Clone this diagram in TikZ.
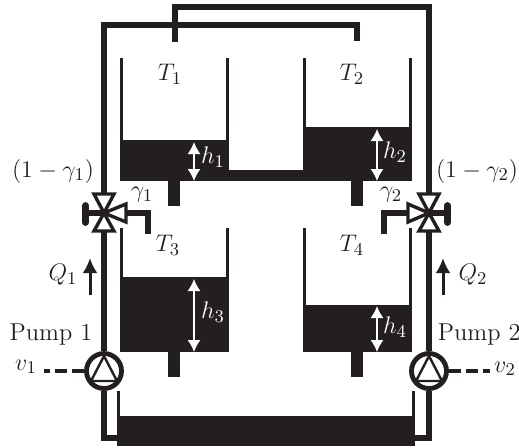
\documentclass[tikz,border=0pt]{standalone}
\usepackage{tikz}
\usetikzlibrary{arrows.meta}

\definecolor{ink}{HTML}{231F20}

\begin{document}
\begin{tikzpicture}[
    x=0.5pt, y=-0.5pt,
    font=\fontsize{13}{15}\selectfont,
    lab/.style={inner sep=0pt, text=ink},
    inlab/.style={inner sep=0pt, text=white},
    pumplab/.style={inner sep=0pt, text=ink, font=\fontsize{12.2}{15}\selectfont},
    pipe/.style={draw=ink, line width=3pt, line cap=butt, miter limit=10},
    wall/.style={draw=ink, line width=1.6pt},
    fluid/.style={fill=ink},
    lvl/.style={white, line width=0.7pt, {Latex[length=6pt,width=6.5pt]}-{Latex[length=6pt,width=6.5pt]}},
    flow/.style={draw=ink, line width=1.5pt, -{Latex[length=7.5pt,width=7.5pt]}},
    sig/.style={draw=ink, line width=1.8pt, dash pattern=on 6pt off 2.5pt},
    pumpS/.style={circle, draw=ink, fill=white, line width=2.4pt, minimum size=17.5pt, inner sep=0pt},
    valveS/.style={draw=ink, fill=white, line width=1.7pt, line join=miter}
]
    % pipe ends
    \coordinate (valve1) at (104,213);
    \coordinate (valve2) at (429,213);
    \coordinate (in1) at (175,42);
    \coordinate (in2) at (357,41);
    \coordinate (top1) at (175,7);
    \coordinate (top2) at (357,25);
    \coordinate (in3) at (148,234);
    \coordinate (in4) at (384,234);
    \coordinate (sump1) at (120,438);
    \coordinate (sump2) at (412,438);
    \coordinate (v1end) at (44,371);
    \coordinate (v2end) at (490,371);

    % tanks
    \fill[fluid] (120,140) rectangle (229,181);
    \fill[fluid] (303,127) rectangle (412,181);
    \fill[fluid] (229,170) rectangle (303,181);
    \fill[fluid] (120,277) rectangle (229,352);
    \fill[fluid] (303,305) rectangle (412,352);
    \fill[fluid] (168,181) rectangle (180,206);
    \fill[fluid] (351,181) rectangle (363,206);
    \fill[fluid] (168,352) rectangle (180,377);
    \fill[fluid] (351,352) rectangle (363,377);
    \fill[fluid] (117,416) rectangle (415,446);
    \foreach \xa/\ya/\yb in {121.5/58/140, 227.5/58/140, 304.5/58/127, 410.5/58/127,
                             121.5/228/277, 227.5/228/277, 304.5/228/305, 410.5/228/305,
                             118.5/391/416, 413.5/391/416}
        \draw[wall] (\xa,\ya) -- (\xa,\yb);

    % level arrows
    \draw[lvl] (194,142) -- (194,181);
    \draw[lvl] (377,129) -- (377,181);
    \draw[lvl] (194,279) -- (194,352);
    \draw[lvl] (377,306) -- (377,352);

    % pipes
    \draw[pipe] (valve1) |- (top2) -- (in2);
    \draw[pipe] (valve2) |- (top1) -- (in1);
    \draw[pipe] (valve1) -| (in3);
    \draw[pipe] (valve2) -| (in4);
    \draw[pipe] (valve1) -- ++(-19,0);
    \draw[pipe] (valve2) -- ++(19,0);
    \draw[pipe, line cap=round, line width=3.4pt] (85.5,205.5) -- (85.5,222.5);
    \draw[pipe, line cap=round, line width=3.4pt] (447.5,205.5) -- (447.5,222.5);
    \node[pumpS] (pump1) at (104,371) {};
    \node[pumpS] (pump2) at (429,371) {};
    \draw[pipe] (valve1) -- (pump1);
    \draw[pipe] (valve2) -- (pump2);
    \draw[pipe] (pump1) |- (sump1);
    \draw[pipe] (pump2) |- (sump2);

    % pumps
    \foreach \p in {pump1,pump2} {
        \draw[ink, line width=1.2pt, line join=miter] ([shift={(0,-15)}]\p.center) -- ([shift={(-13,10)}]\p.center)
            -- ([shift={(13,10)}]\p.center) -- cycle;
    }
    \draw[sig] (pump1.west) -- (v1end);
    \draw[sig] (pump2.east) -- (v2end);

    % valves
    \foreach \v in {valve1,valve2} {
        \draw[valveS] (\v) -- ([shift={(-10,-19)}]\v) -- ([shift={(10,-19)}]\v) -- cycle;
        \draw[valveS] (\v) -- ([shift={(-10,18)}]\v) -- ([shift={(10,18)}]\v) -- cycle;
    }
    \draw[valveS] (valve1) -- ([shift={(22,-9)}]valve1) -- ([shift={(22,9)}]valve1) -- cycle;
    \draw[valveS] (valve2) -- ([shift={(-21,-9)}]valve2) -- ([shift={(-21,9)}]valve2) -- cycle;

    % flow arrows
    \coordinate (q1a) at (90,295);
    \coordinate (q1b) at (90,258);
    \coordinate (q2a) at (443,295);
    \coordinate (q2b) at (443,258);
    \draw[flow] (q1a) -- (q1b);
    \draw[flow] (q2a) -- (q2b);

    % labels
    \node[lab] (lT1) at (170,74) {$T_1$};
    \node[lab] (lT2) at (352,74) {$T_2$};
    \node[lab] (lT3) at (168,245) {$T_3$};
    \node[lab] (lT4) at (352,245) {$T_4$};
    \node[inlab] (lh1) at (213,157) {$h_1$};
    \node[inlab] (lh2) at (395,152) {$h_2$};
    \node[inlab] (lh3) at (213,312) {$h_3$};
    \node[inlab] (lh4) at (395,327) {$h_4$};
    \node[lab] (lg1) at (142,195) {$\gamma_1$};
    \node[lab] (lg2) at (391,195) {$\gamma_2$};
    \node[lab] (lc1) at (53,171) {$(1-\gamma_1)$};
    \node[lab] (lc2) at (477,171) {$(1-\gamma_2)$};
    \node[lab] (lQ1) at (63,275) {$Q_1$};
    \node[lab] (lQ2) at (473,275) {$Q_2$};
    \node[pumplab] (lp1) at (51,335) {Pump 1};
    \node[pumplab, anchor=west] (lp2) at (437.5,335) {Pump 2};
    \node[lab] (lv1) at (26,367) {$v_1$};
    \node[lab] (lv2) at (505,369) {$v_2$};

    \pgfresetboundingbox
    \path[use as bounding box] (0,0) rectangle (519,447);
\end{tikzpicture}
\end{document}
